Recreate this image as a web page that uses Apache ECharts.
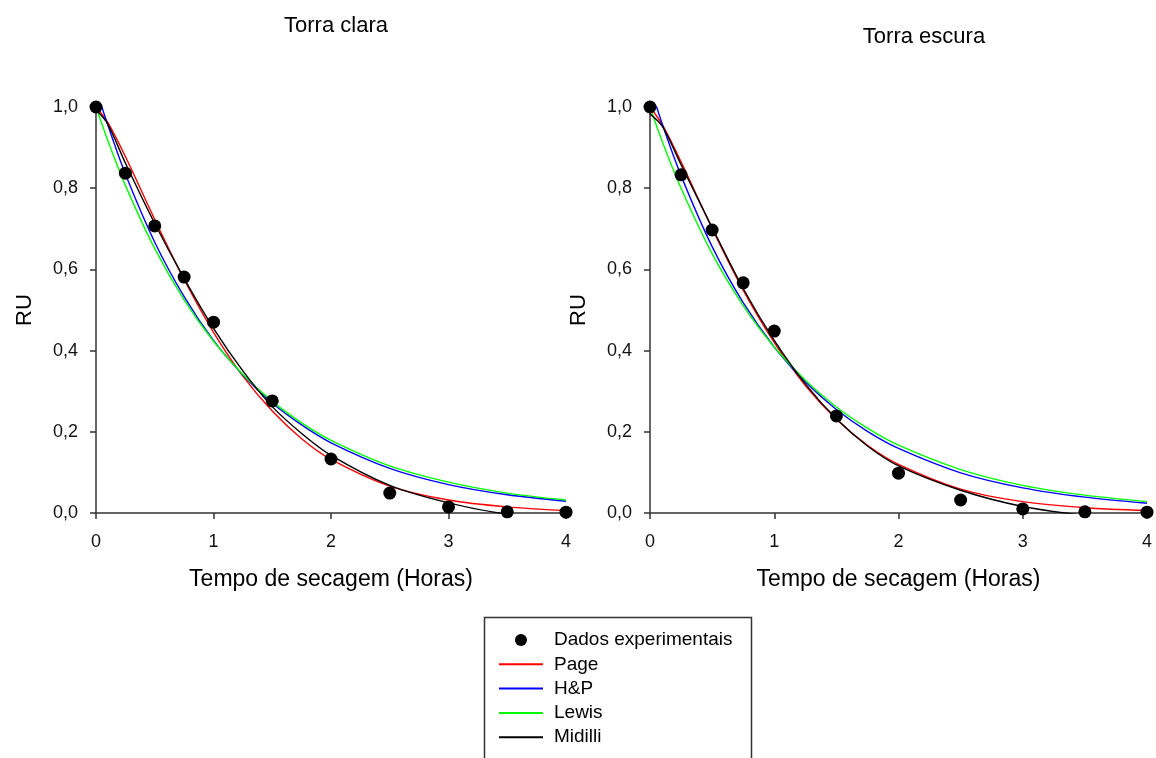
<!DOCTYPE html>
<html>
<head>
<meta charset="utf-8">
<title>Torra clara / Torra escura</title>
<script src="https://cdn.jsdelivr.net/npm/echarts@6/dist/echarts.min.js"></script>
<style>
  html, body { margin: 0; padding: 0; background: #fff; }
  #chart { width: 1156px; height: 758px; }
</style>
</head>
<body>
<div id="chart"></div>
<script>
// pontos experimentais
const tempoExp = [0, 0.25, 0.5, 0.75, 1, 1.5, 2, 2.5, 3, 3.5, 4];
const ruClara = [1.0, 0.837, 0.707, 0.581, 0.470, 0.276, 0.133, 0.049, 0.015, 0.003, 0.002];
const ruEscura = [1.0, 0.833, 0.697, 0.567, 0.448, 0.239, 0.098, 0.032, 0.010, 0.003, 0.002];

// curvas dos modelos
const tempoModelo = [0, 0.1, 0.25, 0.5, 0.75, 1, 1.25, 1.5, 1.75, 2, 2.5, 3, 3.5, 4];
const pageClara = [1.0, 0.962, 0.878, 0.723, 0.575, 0.445, 0.337, 0.251, 0.183, 0.132, 0.066, 0.032, 0.015, 0.006];
const hpClara = [1.046, 0.956, 0.835, 0.667, 0.533, 0.425, 0.340, 0.271, 0.217, 0.173, 0.110, 0.070, 0.045, 0.029];
const lewisClara = [1.0, 0.918, 0.807, 0.651, 0.525, 0.423, 0.341, 0.275, 0.222, 0.179, 0.116, 0.076, 0.049, 0.032];
const midilliClara = [0.993, 0.958, 0.862, 0.713, 0.578, 0.455, 0.350, 0.262, 0.196, 0.142, 0.068, 0.025, -0.003, -0.015];

const pageEscura = [1.0, 0.956, 0.865, 0.701, 0.549, 0.420, 0.314, 0.231, 0.167, 0.120, 0.059, 0.028, 0.013, 0.006];
const hpEscura = [1.052, 0.957, 0.831, 0.656, 0.518, 0.409, 0.323, 0.255, 0.201, 0.159, 0.099, 0.062, 0.039, 0.024];
const lewisEscura = [1.0, 0.914, 0.800, 0.639, 0.511, 0.409, 0.327, 0.261, 0.209, 0.167, 0.107, 0.068, 0.044, 0.028];
const midilliEscura = [0.983, 0.952, 0.858, 0.703, 0.553, 0.425, 0.318, 0.232, 0.165, 0.116, 0.056, 0.016, -0.006, -0.020];

const yTicks = [0, 0.2, 0.4, 0.6, 0.8, 1.0];
const xTicks = [0, 1, 2, 3, 4];

const fonte = "'Liberation Sans', Arial, sans-serif";

function pares(xs, ys) {
  return xs.map((x, i) => [x, ys[i]]);
}

function eixoX(idx) {
  return {
    type: "value",
    gridIndex: idx,
    min: xTicks[0],
    max: xTicks[xTicks.length - 1],
    interval: 1,
    name: "Tempo de secagem (Horas)",
    nameLocation: "middle",
    nameGap: 55,
    nameTextStyle: { fontSize: 23, color: "#000", fontFamily: fonte },
    axisLine: { lineStyle: { color: "#333", width: 1.5 } },
    axisTick: { inside: false, length: 6, lineStyle: { color: "#333", width: 1.5 } },
    axisLabel: { margin: 20, fontSize: 18, color: "#111", fontFamily: fonte },
    splitLine: { show: false },
  };
}

function eixoY(idx) {
  return {
    type: "value",
    gridIndex: idx,
    min: yTicks[0],
    max: yTicks[yTicks.length - 1],
    interval: 0.2,
    name: "RU",
    nameLocation: "middle",
    nameGap: 60,
    nameTextStyle: { fontSize: 22, color: "#000", fontFamily: fonte },
    axisLine: { show: true, lineStyle: { color: "#333", width: 1.5 } },
    axisTick: { show: true, inside: false, length: 6, lineStyle: { color: "#333", width: 1.5 } },
    axisLabel: {
      margin: 18,
      fontSize: 18,
      color: "#111",
      fontFamily: fonte,
      formatter: (v) => v.toFixed(1).replace(".", ","),
    },
    splitLine: { show: false },
  };
}

function curva(nome, cor, idx, valores) {
  return {
    name: nome,
    type: "line",
    xAxisIndex: idx,
    yAxisIndex: idx,
    data: pares(tempoModelo, valores),
    smooth: 0.3,
    symbol: "none",
    clip: true,
    lineStyle: { color: cor, width: 1.4 },
    itemStyle: { color: cor },
    z: 3,
  };
}

function pontos(idx, valores) {
  return {
    name: "Dados experimentais",
    type: "scatter",
    xAxisIndex: idx,
    yAxisIndex: idx,
    data: pares(tempoExp, valores),
    symbol: "circle",
    symbolSize: 13,
    clip: false,
    itemStyle: { color: "#000", opacity: 1 },
    z: 4,
  };
}

const semSimbolo = { opacity: 0 };

const chart = echarts.init(document.getElementById("chart"));

chart.setOption({
  animation: false,
  backgroundColor: "#fff",
  textStyle: { fontFamily: fonte },
  title: [
    {
      text: "Torra clara",
      left: 331,
      top: 10,
      textAlign: "center",
      textStyle: { fontSize: 22, fontWeight: "normal", color: "#000", fontFamily: fonte },
    },
    {
      text: "Torra escura",
      left: 919,
      top: 21,
      textAlign: "center",
      textStyle: { fontSize: 22, fontWeight: "normal", color: "#000", fontFamily: fonte },
    },
  ],
  grid: [
    { left: 96, top: 107, width: 470, height: 406 },
    { left: 650, top: 107, width: 497, height: 406 },
  ],
  xAxis: [eixoX(0), eixoX(1)],
  yAxis: [eixoY(0), eixoY(1)],
  legend: {
    orient: "vertical",
    left: 498,
    top: 630,
    padding: 0,
    itemWidth: 44,
    itemHeight: 12,
    itemGap: 4.3,
    data: [
      { name: "Dados experimentais", icon: "circle", itemStyle: { color: "#000", opacity: 1 } },
      { name: "Page", itemStyle: semSimbolo },
      { name: "H&P", itemStyle: semSimbolo },
      { name: "Lewis", itemStyle: semSimbolo },
      { name: "Midilli", itemStyle: semSimbolo },
    ],
    textStyle: { fontSize: 19, color: "#000", lineHeight: 20, padding: [0, 0, 0, 6], fontFamily: fonte },
  },
  graphic: [
    {
      type: "rect",
      left: 482,
      top: 615,
      shape: { width: 267, height: 160 },
      style: { fill: "none", stroke: "#333", lineWidth: 1.5 },
      silent: true,
    },
  ],
  series: [
    curva("Page", "#ff0000", 0, pageClara),
    curva("H&P", "#0000ff", 0, hpClara),
    curva("Lewis", "#00ff00", 0, lewisClara),
    curva("Midilli", "#000000", 0, midilliClara),
    pontos(0, ruClara),
    curva("Page", "#ff0000", 1, pageEscura),
    curva("H&P", "#0000ff", 1, hpEscura),
    curva("Lewis", "#00ff00", 1, lewisEscura),
    curva("Midilli", "#000000", 1, midilliEscura),
    pontos(1, ruEscura),
  ],
});
</script>
</body>
</html>
